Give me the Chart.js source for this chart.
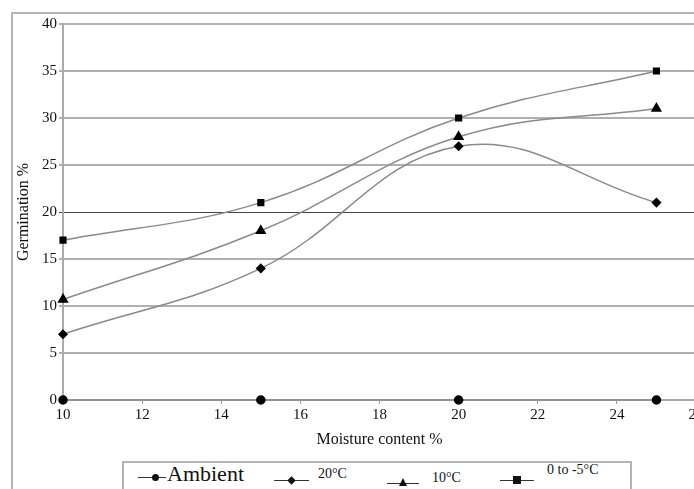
<!DOCTYPE html>
<html>
<head>
<meta charset="utf-8">
<script src="https://cdn.jsdelivr.net/npm/chart.js@4/dist/chart.umd.min.js"></script>
<style>
  body { margin:0; width:694px; height:489px; overflow:hidden; background:#fff; font-family:"Liberation Serif", serif; }
  #frame { position:absolute; left:11px; top:12px; width:800px; height:600px; border-top:2px solid #b4b4b4; border-left:2px solid #b4b4b4; }
  #wrap { position:absolute; left:0; top:0; width:720px; height:489px; }
  #legend { position:absolute; left:122px; top:461px; width:506px; height:40px; border:2px solid #b4b4b4; background:#fff; }
  .item { position:absolute; color:#111; white-space:nowrap; }
  .ln { position:absolute; height:1px; background:#333; }
  .mk { position:absolute; background:#111; }
</style>
</head>
<body>
<div id="frame"></div>
<div id="wrap"><canvas id="myChart" width="720" height="489"></canvas></div>
<div id="legend"></div>
<script>
// moisture content % (x values)
var moisture = [10, 15, 20, 25];
var seriesNames = ['Ambient', '20°C', '10°C', '0 to -5°C'];
var ambient = [0, 0, 0, 0];
var temp20 = [7, 14, 27, 21];
var temp10 = [10.7, 18, 28, 31];
var temp0to5 = [17, 21, 30, 35];
var markers = ['circle', 'rectRot', 'triangle', 'rect'];

function toPoints(vals){
  return vals.map(function(v, i){ return {x: moisture[i], y: v}; });
}

var allSeries = [ambient, temp20, temp10, temp0to5];
var datasets = allSeries.map(function(vals, i){
  return {
    label: seriesNames[i],
    data: toPoints(vals),
    borderColor: '#8a8a8a',
    borderWidth: 1.5,
    tension: 0.4,
    pointStyle: markers[i],
    pointRadius: i == 2 ? 5 : 4,
    pointBackgroundColor: '#000',
    pointBorderColor: '#000',
    clip: false
  };
});

const ctx = document.getElementById('myChart');
const myChart = new Chart(ctx, {
  type: 'line',
  data: { datasets: datasets },
  options: {
    responsive: false,
    animation: false,
    layout: { padding: { left: 0, top: 24, right: 24, bottom: 40 } },
    plugins: { legend: { display: false }, tooltip: { enabled: false } },
    scales: {
      x: {
        type: 'linear', min: 10, max: 26,
        ticks: { stepSize: 2, color: '#111', padding: 2, font: { family: 'Liberation Serif', size: 15 } },
        grid: { drawOnChartArea: false, drawTicks: true, tickLength: 4, color: '#999' },
        border: { color: '#aaa', width: 2 },
        title: { display: true, text: 'Moisture content %', color: '#111', padding: { top: 6, bottom: 0 }, font: { family: 'Liberation Serif', size: 16 } },
        afterFit: function(scale){ scale.height = 49; }
      },
      y: {
        min: 0, max: 40,
        ticks: { stepSize: 5, color: '#111', padding: 2, font: { family: 'Liberation Serif', size: 15 } },
        grid: {
          color: function(c){ return c.tick && c.tick.value == 20 ? '#444' : '#b0b0b0'; },
          lineWidth: function(c){ return c.tick && c.tick.value == 20 ? 1 : 2; },
          tickLength: 4
        },
        border: { color: '#aaa', width: 2 },
        title: { display: true, text: 'Germination %', color: '#111', padding: { top: 14, bottom: 0 }, font: { family: 'Liberation Serif', size: 16 } },
        afterFit: function(scale){ scale.width = 63; }
      }
    }
  }
});

// legend built by hand, the original has uneven font sizes
var legendItems = [
  { lineX: 14, lineW: 28, lineY: 14, mkX: 31, text: 'Ambient', textX: 43, textY: -2, size: 22 },
  { lineX: 150, lineW: 35, lineY: 17, mkX: 167, text: '20°C', textX: 194, textY: 3, size: 14 },
  { lineX: 263, lineW: 32, lineY: 20, mkX: 279, text: '10°C', textX: 308, textY: 7, size: 14 },
  { lineX: 376, lineW: 34, lineY: 17, mkX: 393, text: '0 to -5°C', textX: 423, textY: -1, size: 14 }
];
var legend = document.getElementById('legend');
legendItems.forEach(function(it, i){
  var ln = document.createElement('div');
  ln.className = 'ln';
  ln.style.left = it.lineX + 'px'; ln.style.top = it.lineY + 'px'; ln.style.width = it.lineW + 'px';
  legend.appendChild(ln);
  var mk = document.createElement('div');
  mk.className = 'mk';
  if (i == 2) {
    mk.style.background = 'none';
    mk.style.width = '0'; mk.style.height = '0';
    mk.style.borderLeft = '4px solid transparent';
    mk.style.borderRight = '4px solid transparent';
    mk.style.borderBottom = '8px solid #111';
    mk.style.left = (it.mkX - 4) + 'px'; mk.style.top = (it.lineY - 5) + 'px';
  } else {
    var s = i == 3 ? 8 : 7;
    mk.style.width = s + 'px'; mk.style.height = s + 'px';
    mk.style.left = (it.mkX - s / 2) + 'px'; mk.style.top = (it.lineY - s / 2) + 'px';
    if (i == 0) mk.style.borderRadius = '50%';
    if (i == 1) mk.style.transform = 'rotate(45deg) scale(0.85)';
  }
  legend.appendChild(mk);
  var tx = document.createElement('div');
  tx.className = 'item';
  tx.textContent = it.text;
  tx.style.left = it.textX + 'px'; tx.style.top = it.textY + 'px'; tx.style.fontSize = it.size + 'px';
  legend.appendChild(tx);
});
</script>
</body>
</html>
